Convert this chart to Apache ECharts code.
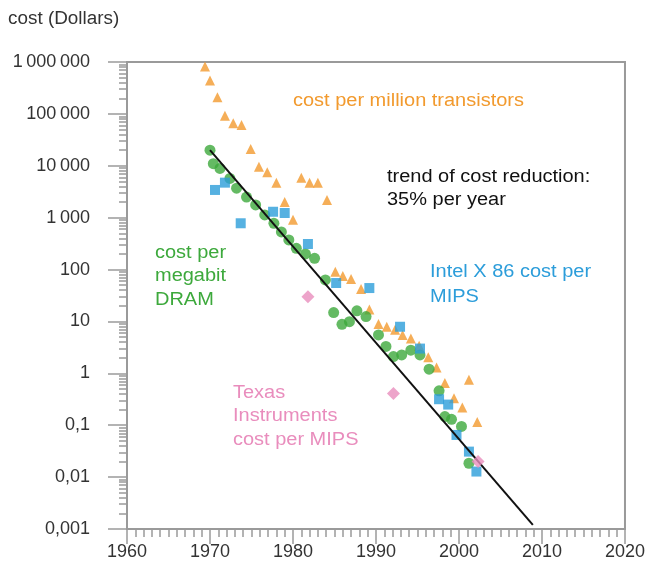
<!DOCTYPE html>
<html>
<head>
<meta charset="utf-8">
<script src="https://cdn.jsdelivr.net/npm/echarts@6/dist/echarts.min.js"></script>
<style>
  html, body { margin: 0; padding: 0; background: #fff; }
  #chart { width: 648px; height: 574px; }
</style>
</head>
<body>
<div id="chart"></div>
<script>
// Cost per million transistors
const transYears = [1969.4, 1970.0, 1970.9, 1971.8, 1972.8, 1973.8, 1974.9, 1975.9, 1976.9, 1978.0, 1979.0, 1980.0, 1981.0, 1982.0, 1983.0, 1984.1, 1985.1, 1986.0, 1987.0, 1988.2, 1989.2, 1990.3, 1991.3, 1992.3, 1993.2, 1994.2, 1995.2, 1996.3, 1997.3, 1998.3, 1999.4, 2000.4, 2001.2, 2002.2];
const transCost = [820000, 440000, 210000, 92000, 66000, 61000, 21000, 9600, 7500, 4700, 2000, 910, 5900, 4700, 4700, 2200, 91, 75, 66, 42, 17, 8.9, 7.9, 6.9, 5.5, 4.7, 3.4, 2.05, 1.3, 0.65, 0.33, 0.22, 0.75, 0.115];

// Cost per megabit DRAM
const dramYears = [1970.0, 1970.4, 1971.2, 1972.4, 1973.2, 1974.4, 1975.5, 1976.6, 1977.7, 1978.6, 1979.5, 1980.4, 1981.5, 1982.6, 1983.9, 1984.9, 1985.9, 1986.8, 1987.7, 1988.8, 1990.3, 1991.2, 1992.1, 1993.1, 1994.2, 1995.3, 1996.4, 1997.6, 1998.3, 1999.1, 2000.3, 2001.2];
const dramCost = [20000, 11000, 8900, 5700, 3700, 2500, 1760, 1130, 780, 530, 372, 257, 200, 165, 63, 14.8, 8.8, 9.9, 16, 12.4, 5.5, 3.3, 2.1, 2.26, 2.8, 2.26, 1.2, 0.46, 0.147, 0.13, 0.095, 0.0185];

// Intel X 86 cost per MIPS
const intelYears = [1970.6, 1971.8, 1973.7, 1977.6, 1979.0, 1981.8, 1985.2, 1989.2, 1992.9, 1995.3, 1997.6, 1998.7, 1999.7, 2001.2, 2002.1];
const intelCost = [3420, 4730, 780, 1300, 1230, 311, 55, 44, 7.9, 3.0, 0.317, 0.25, 0.065, 0.031, 0.0128];

// Texas Instruments cost per MIPS
const tiYears = [1981.8, 1992.1, 2002.3];
const tiCost = [30, 0.41, 0.02];

// Trend of cost reduction (35 % per year)
const trendYears = [1970, 2008.9];
const trendCost = [20000, 0.0012];

// Axis tick labels
const xTickLabels = ['1960', '1970', '1980', '1990', '2000', '2010', '2020'];
const yTickValues = [0.001, 0.01, 0.1, 1, 10, 100, 1000, 10000, 100000, 1000000];
const yTickLabels = ['0,001', '0,01', '0,1', '1', '10', '100', '1\u2009000', '10\u2009000', '100\u2009000', '1\u2009000\u2009000'];

const pairs = (xs, ys) => xs.map((x, i) => [x, ys[i]]);

const FONT = '"Liberation Sans", Arial, Helvetica, sans-serif';
const AXIS_GRAY = '#9a9a9a';
const C_ORANGE = '#F29A2E';
const C_GREEN = '#3DA93C';
const C_BLUE = '#2C9DDA';
const C_PINK = '#E98DBD';

const chart = echarts.init(document.getElementById('chart'), null, { renderer: 'canvas' });

function yLabel(v) {
  for (let i = 0; i < yTickValues.length; i++) {
    if (Math.abs(Math.log10(v) - Math.log10(yTickValues[i])) < 1e-6) return yTickLabels[i];
  }
  return '';
}

// Slightly widened annotation text
function note(x, y, text, color, lineHeight) {
  return {
    type: 'text', x: x, y: y, scaleX: 1.11,
    style: { text: text, fill: color, font: '18px ' + FONT, lineHeight: lineHeight }
  };
}

const option = {
  animation: false,
  textStyle: { fontFamily: FONT },
  grid: {
    left: 127, right: 23, top: 62, bottom: 45,
    show: true, borderColor: AXIS_GRAY, borderWidth: 2, backgroundColor: 'transparent'
  },
  xAxis: {
    type: 'value', min: 1960, max: 2020, interval: 10,
    axisLine: { show: true, lineStyle: { color: AXIS_GRAY, width: 2 } },
    axisTick: { show: true, inside: false, length: 15, lineStyle: { color: AXIS_GRAY, width: 1.5 } },
    minorTick: { show: true, splitNumber: 10, length: 8, lineStyle: { color: AXIS_GRAY, width: 1.5 } },
    splitLine: { show: false },
    axisLabel: {
      color: '#333', fontSize: 18, fontFamily: FONT, margin: 14,
      formatter: v => xTickLabels[Math.round((v - 1960) / 10)] || ''
    }
  },
  yAxis: {
    type: 'log', logBase: 10, min: 0.001, max: 1000000,
    axisLine: { show: true, lineStyle: { color: AXIS_GRAY, width: 2 } },
    axisTick: { show: true, inside: false, length: 19, lineStyle: { color: AXIS_GRAY, width: 1.5 } },
    minorTick: { show: true, splitNumber: 9, length: 8, lineStyle: { color: AXIS_GRAY, width: 1.5 } },
    splitLine: { show: false },
    axisLabel: {
      color: '#333', fontSize: 18, fontFamily: FONT, margin: 37,
      formatter: yLabel
    }
  },
  series: [
    {
      name: 'cost per million transistors', type: 'scatter', symbol: 'triangle', symbolSize: 10,
      itemStyle: { color: C_ORANGE }, data: pairs(transYears, transCost), z: 2
    },
    {
      name: 'cost per megabit DRAM', type: 'scatter', symbol: 'circle', symbolSize: 11,
      itemStyle: { color: C_GREEN }, data: pairs(dramYears, dramCost), z: 3
    },
    {
      name: 'Intel X 86 cost per MIPS', type: 'scatter', symbol: 'rect', symbolSize: 10,
      itemStyle: { color: C_BLUE }, data: pairs(intelYears, intelCost), z: 4
    },
    {
      name: 'trend', type: 'line', showSymbol: false, symbol: 'none',
      lineStyle: { color: '#111', width: 2 }, data: pairs(trendYears, trendCost), z: 5
    },
    {
      name: 'Texas Instruments cost per MIPS', type: 'scatter', symbol: 'diamond', symbolSize: 13,
      itemStyle: { color: C_PINK }, data: pairs(tiYears, tiCost), z: 6
    }
  ],
  graphic: [
    { type: 'text', x: 8, y: 10, scaleX: 1.05, style: { text: 'cost (Dollars)', fill: '#333', font: '18px ' + FONT } },
    note(293, 90, 'cost per million transistors', C_ORANGE, 23),
    note(387, 166, 'trend of cost reduction:\n35% per year', '#111', 23),
    note(155, 241, 'cost per\nmegabit\nDRAM', C_GREEN, 23.5),
    note(430, 260, 'Intel X 86 cost per\nMIPS', C_BLUE, 25),
    note(233, 381, 'Texas\nInstruments\ncost per MIPS', C_PINK, 23.5)
  ]
};

chart.setOption(option);
</script>
</body>
</html>
